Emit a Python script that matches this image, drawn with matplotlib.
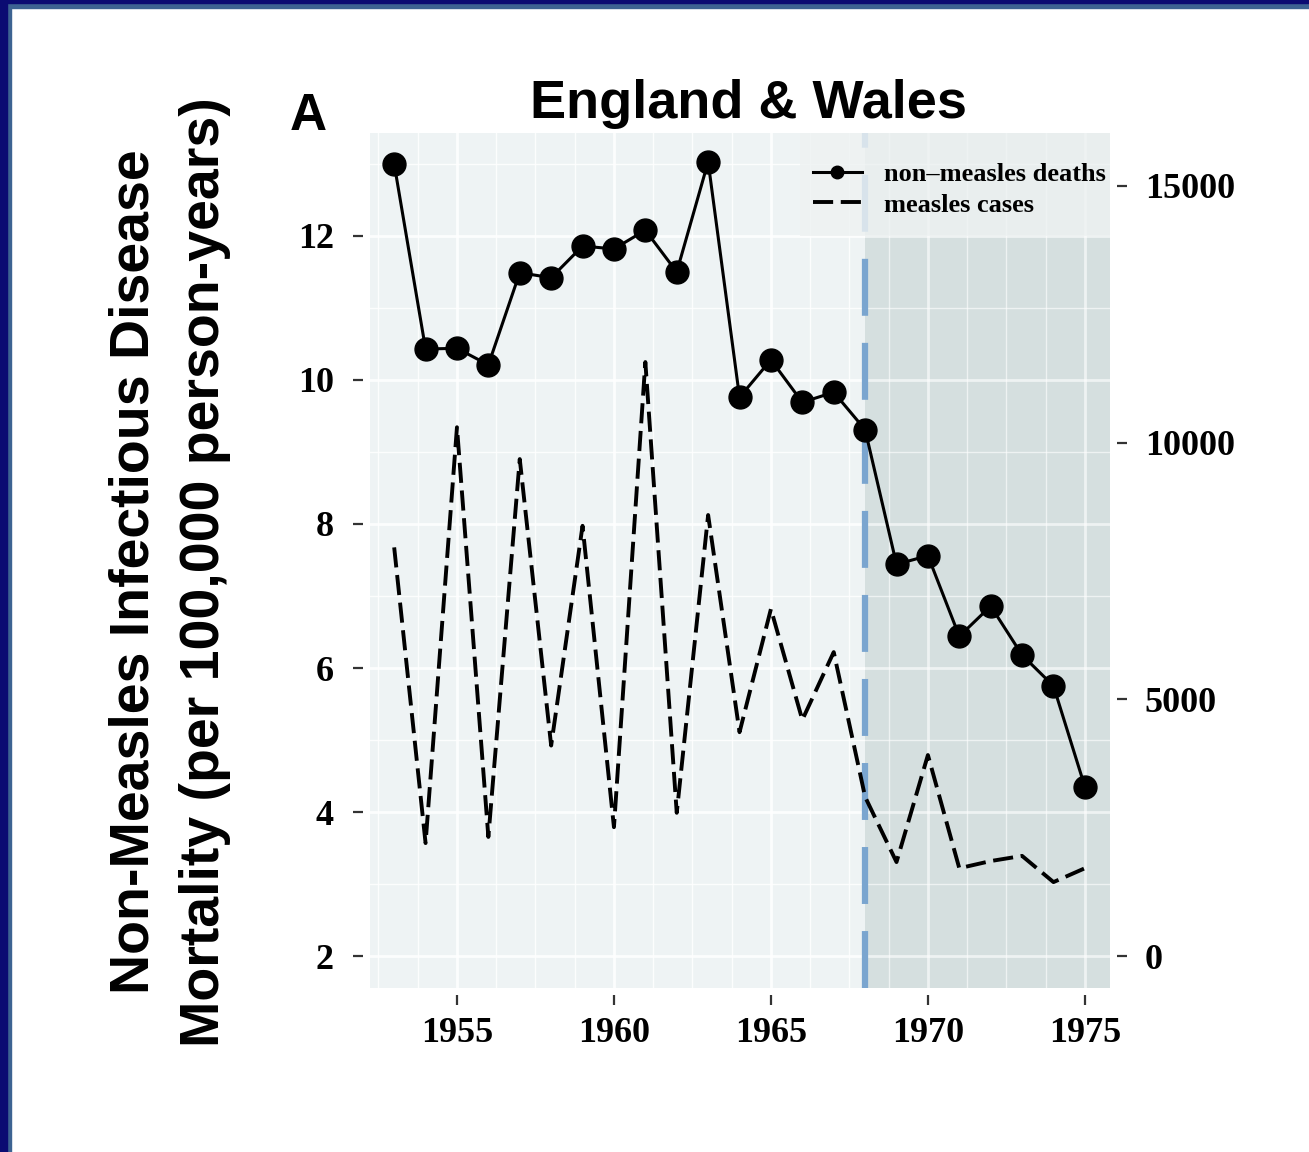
import matplotlib
matplotlib.use("Agg")
import matplotlib.pyplot as plt
from matplotlib.lines import Line2D
from matplotlib.patches import Rectangle
from matplotlib import font_manager

# ---- data -------------------------------------------------------------
years = list(range(1953, 1976))
deaths = [13.00, 10.43, 10.44, 10.21, 11.49, 11.42, 11.86, 11.82, 12.08, 11.50,
          13.03, 9.76, 10.28, 9.69, 9.83, 9.31, 7.44, 7.56, 6.44, 6.86,
          6.18, 5.75, 4.35]
measles = [7960, 2200, 10300, 2320, 9680, 4100, 8380, 2510, 11570, 2790,
           8590, 4360, 6760, 4600, 5920, 3100, 1830, 3915, 1710, 1850,
           1950, 1440, 1710]
vaccine_year = 1968

left_ticks = [2, 4, 6, 8, 10, 12]
right_ticks = [0, 5000, 10000, 15000]
x_ticks = [1955, 1960, 1965, 1970, 1975]

title = "England & Wales"
panel_tag = "A"
ylabel_lines = ["Non-Measles Infectious Disease",
                "Mortality (per 100,000 person-years)"]
legend_labels = ["non\u2013measles deaths", "measles cases"]

# ---- style --------------------------------------------------------------
plt.rcParams["lines.scale_dashes"] = False
W, H = 1309, 1152
panel_bg = "#eef3f4"
shade_col = "#d5dfdf"
vline_col = "#7aa5cf"
navy = "#0b0b72"
steel = "#3d6392"
serif = ["Liberation Serif", "DejaVu Serif"]
names = {f.name for f in font_manager.fontManager.ttflist}
narrow = "Liberation Sans Narrow" in names
label_family = ["Liberation Sans Narrow"] if narrow else ["Liberation Sans", "DejaVu Sans"]
label_size = 47 if narrow else 40
measles_ls = (0, (14.5, 5.5))

fig = plt.figure(figsize=(W / 100, H / 100), dpi=100, facecolor="white")

# axes placement (panel)
px0, px1, py0, py1 = 370, 1110, 133, 988
ax = fig.add_axes([px0 / W, 1 - py1 / H, (px1 - px0) / W, (py1 - py0) / H])
ax.set_facecolor(panel_bg)
ax.set_xlim(1952.23, 1975.80)
ax.set_ylim(1.556, 13.43)
xmax = ax.get_xlim()[1]

# grid
for y in range(2, 14):
    ax.axhline(y, color="white", lw=2.0 if y % 2 == 0 else 1.0, zorder=0.5, alpha=0.85)
gx = 1952.5
while gx < 1976:
    ax.axvline(gx, color="white", lw=2.0 if abs(gx % 5) < 1e-9 else 1.0, zorder=0.5,
               alpha=0.85)
    gx += 1.25

# shaded post-vaccine period with its own faint grid
ax.axvspan(vaccine_year, xmax, color=shade_col, lw=0, zorder=0.6)
for y in range(2, 14):
    ax.plot([vaccine_year, xmax], [y, y], color="white",
            lw=2.0 if y % 2 == 0 else 1.0, zorder=0.7, alpha=0.6)
gx = 1968.75
while gx < 1976:
    ax.axvline(gx, color="white", lw=2.0 if abs(gx % 5) < 1e-9 else 1.0,
               zorder=0.7, alpha=0.6)
    gx += 1.25
ax.axvline(vaccine_year, color=vline_col, lw=4.5, ls=(0, (41, 19.5)), zorder=1)

# legend background block in the top-right corner of the panel
ax.add_patch(Rectangle((0.581, 0.8795), 0.419, 0.1205, transform=ax.transAxes,
                       facecolor="#eef2f2", edgecolor="none", alpha=0.82, zorder=1.5))

# measles cases on secondary axis
ax2 = ax.twinx()
ax2.set_ylim(-623, 16032)
ax2.plot(years, measles, color="black", lw=2.8, ls=measles_ls)

# deaths drawn above the measles line, on the left-axis scale
axd = ax.twinx()
axd.set_ylim(ax.get_ylim())
axd.plot(years, deaths, color="black", lw=2.2, marker="o", ms=16.5)
axd.set_yticks([])
axd.tick_params(axis="both", length=0)

# ticks
for a in (ax, ax2, axd):
    for s in a.spines.values():
        s.set_visible(False)
ax.spines["left"].set_position(("outward", 5))
ax.spines["bottom"].set_position(("outward", 5))
ax2.spines["right"].set_position(("outward", 5))
ax2.yaxis.tick_right()

ax.set_yticks(left_ticks)
ax.set_yticklabels([str(t) for t in left_ticks])
ax.set_xticks(x_ticks)
ax.set_xticklabels([str(t) for t in x_ticks])
ax2.set_yticks(right_ticks)
ax2.set_yticklabels([str(t) for t in right_ticks])

tick_kw = dict(length=7, width=1.6, color="#333333", labelcolor="black")
ax.tick_params(axis="y", pad=14, **tick_kw)
ax.tick_params(axis="x", pad=9, **tick_kw)
ax2.tick_params(axis="y", pad=13, **tick_kw)
for lab in ax.get_xticklabels() + ax.get_yticklabels() + ax2.get_yticklabels():
    lab.set_fontfamily(serif)
    lab.set_fontweight("bold")
    lab.set_fontsize(26)

# legend
handles = [Line2D([], [], color="black", lw=2.2, marker="o", ms=9),
           Line2D([], [], color="black", lw=2.8, ls=measles_ls)]
leg = axd.legend(handles, legend_labels, loc="upper right",
                 bbox_to_anchor=((1105 - 370 + 1) / 740, 1 - 30 / 855),
                 borderaxespad=0, borderpad=0, frameon=False,
                 handlelength=1.85, handletextpad=0.85, labelspacing=0.25,
                 prop=dict(family=serif, weight="bold", size=19))

# titles and labels
fig.text(748 / W, 1 - 118 / H, title, ha="center", va="baseline",
         fontsize=39, fontweight="bold", family=["Liberation Sans", "DejaVu Sans"])
fig.text(290 / W, 1 - 130 / H, panel_tag, ha="left", va="baseline",
         fontsize=37, fontweight="bold", family=label_family)
fig.text(135 / W, 1 - 572 / H, ylabel_lines[0], rotation=90, ha="center", va="center",
         fontsize=label_size, fontweight="bold", family=label_family)
fig.text(205 / W, 1 - 572 / H, ylabel_lines[1], rotation=90, ha="center", va="center",
         fontsize=label_size, fontweight="bold", family=label_family)

# slide frame
fig.patches.append(Rectangle((0, 1 - 8 / H), 1, 8 / H, transform=fig.transFigure,
                             color=steel, zorder=10))
fig.patches.append(Rectangle((0, 1 - 3 / H), 1, 3 / H, transform=fig.transFigure,
                             color=navy, zorder=11))
fig.patches.append(Rectangle((7 / W, 0), 4 / W, 1, transform=fig.transFigure,
                             color=steel, zorder=10))
fig.patches.append(Rectangle((0, 0), 7 / W, 1, transform=fig.transFigure,
                             color=navy, zorder=11))

fig.savefig("out.png", dpi=100, facecolor="white")
